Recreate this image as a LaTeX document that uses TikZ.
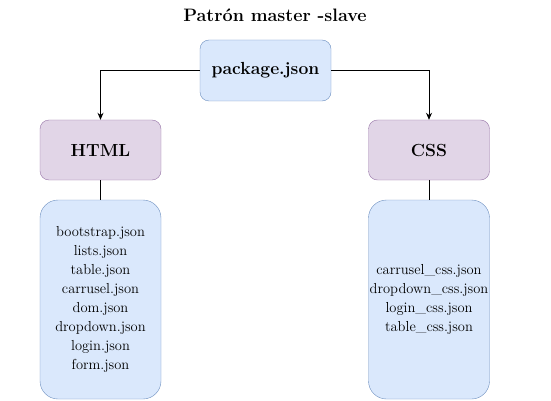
\documentclass[tikz,border=0pt]{standalone}
\usepackage{fontspec}
\usetikzlibrary{arrows.meta}
\definecolor{bluefill}{HTML}{DAE8FC}
\definecolor{bluedraw}{HTML}{6C8EBF}
\definecolor{purplefill}{HTML}{E1D5E7}
\definecolor{purpledraw}{HTML}{9673A6}
\tikzset{
  pkgbox/.style={draw=bluedraw, fill=bluefill, rounded corners=9pt, minimum width=131pt, minimum height=61pt, font=\fontsize{17.5}{20}\selectfont\bfseries, inner sep=0pt},
  catbox/.style={draw=purpledraw, fill=purplefill, rounded corners=9pt, minimum width=121pt, minimum height=60pt, font=\fontsize{17.5}{20}\selectfont\bfseries, inner sep=0pt},
  listbox/.style={draw=bluedraw, fill=bluefill, rounded corners=18pt, minimum width=121pt, minimum height=199pt, font=\fontsize{14.5}{19}\selectfont, align=center, inner sep=0pt},
  conn/.style={draw=black, line width=0.8pt},
  arr/.style={conn, -{Stealth[length=7pt,width=6pt]}}
}
\begin{document}
\begin{tikzpicture}[x=1pt,y=-1pt]
\useasboundingbox (0,0) rectangle (551,401);
\node[font=\fontsize{18}{21}\selectfont\bfseries] (title) at (275,15) {Patrón master -slave};
\node[pkgbox] (pkg) at (265.5,70.5) {package.json};
\node[catbox] (html) at (100.5,150) {HTML};
\node[catbox] (css) at (429,150) {CSS};
\node[listbox] (hlist) at (100.5,299.5) {bootstrap.json\\lists.json\\table.json\\carrusel.json\\dom.json\\dropdown.json\\login.json\\form.json};
\node[listbox] (clist) at (429,299.5) {carrusel\_css.json\\dropdown\_css.json\\login\_css.json\\table\_css.json};
\draw[arr] (pkg.west) -| (html.north);
\draw[arr] (pkg.east) -| (css.north);
\draw[conn] (html.south) -- (hlist.north);
\draw[conn] (css.south) -- (clist.north);
\end{tikzpicture}
\end{document}
